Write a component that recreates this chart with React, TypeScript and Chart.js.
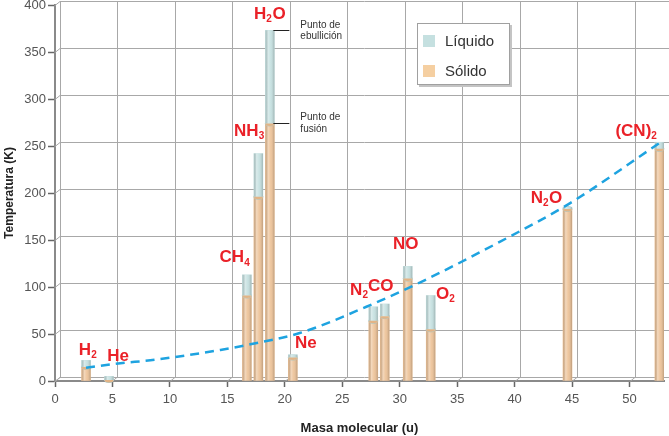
import React, { useEffect, useRef } from 'react';
import { Chart, registerables } from 'chart.js';

Chart.register(...registerables);

// ---- data ----
const species = ['H_2', 'He', 'CH_4', 'NH_3', 'H_2O', 'Ne', 'N_2', 'CO', 'NO', 'O_2', 'N_2O', '(CN)_2'];
const molecularMass = [2.7, 4.7, 16.7, 17.7, 18.7, 20.7, 27.7, 28.7, 30.7, 32.7, 44.6, 52.6];
const meltingPoint = [15, 1, 91, 196, 274, 25, 64, 69, 109, 55, 183, 247];
const boilingPoint = [22, 5, 113, 242, 373, 28, 79, 82, 122, 91, 185, 254];
const trendMass = [2.7, 5.7, 8.3, 14.4, 17.0, 21.3, 27.1, 31.8, 38.7, 44.8, 52.7];
const trendTemp = [14, 19, 22, 33, 39, 51, 79, 105, 148, 189, 254];
const xTickValues = [0, 5, 10, 15, 20, 25, 30, 35, 40, 45, 50];
const yTickValues = [0, 50, 100, 150, 200, 250, 300, 350, 400];
const legendLabels = ['Líquido', 'Sólido'];

// ---- label placement (pixel offsets from each bar top), kept apart from data ----
const labelOffsets = [
  [2, -10], [9, -20], [-12, -17], [-9, -22], [0, -16], [13, -11],
  [-14, -16], [-4, -18], [-2, -22], [15, -1], [-21, -9], [-23, -11],
];

const SOLID = '#edc399';
const LIQUID = '#c5e0e0';
const RED = '#ea2128';
const FONT = "'Liberation Sans', Arial, sans-serif";
const BACK_DX = 5;
const BACK_DY = -4;

function parseChem(s: string): Array<[string, boolean]> {
  const parts: Array<[string, boolean]> = [];
  for (let i = 0; i < s.length; i++) {
    if (s[i] === '_' && i + 1 < s.length) {
      parts.push([s[i + 1], true]);
      i++;
    } else {
      const last = parts[parts.length - 1];
      if (last && !last[1]) last[0] += s[i];
      else parts.push([s[i], false]);
    }
  }
  return parts;
}

function drawChem(ctx: CanvasRenderingContext2D, text: string, cx: number, cy: number) {
  const parts = parseChem(text);
  const mainFont = `bold 17px ${FONT}`;
  const subFont = `bold 10px ${FONT}`;
  let total = 0;
  for (const [t, sub] of parts) {
    ctx.font = sub ? subFont : mainFont;
    total += ctx.measureText(t).width + (sub ? 0.5 : 0);
  }
  let x = cx - total / 2;
  ctx.fillStyle = RED;
  ctx.textAlign = 'left';
  ctx.textBaseline = 'middle';
  for (const [t, sub] of parts) {
    ctx.font = sub ? subFont : mainFont;
    ctx.fillText(t, x, sub ? cy + 5 : cy);
    x += ctx.measureText(t).width + (sub ? 0.5 : 0);
  }
}

const backGridPlugin = {
  id: 'backGrid',
  beforeDatasetsDraw(chart: any) {
    const { ctx, chartArea: a, scales } = chart;
    const xs = scales.x;
    const ys = scales.y;
    ctx.save();
    ctx.strokeStyle = '#a8a8a8';
    ctx.lineWidth = 1;
    ctx.beginPath();
    for (const v of yTickValues) {
      const py = Math.round(ys.getPixelForValue(v)) + 0.5;
      ctx.moveTo(a.left, py);
      ctx.lineTo(a.left + BACK_DX, py + BACK_DY);
      ctx.lineTo(chart.width, py + BACK_DY);
    }
    for (const v of xTickValues) {
      const px = Math.round(xs.getPixelForValue(v)) + 0.5;
      ctx.moveTo(px, a.bottom);
      ctx.lineTo(px + BACK_DX, a.bottom + BACK_DY);
      ctx.lineTo(px + BACK_DX, ys.getPixelForValue(400) + BACK_DY);
    }
    ctx.stroke();
    ctx.restore();
  },
};

const barShadePlugin = {
  id: 'barShade',
  afterDatasetDraw(chart: any, args: any) {
    const meta = args.meta;
    if (meta.type !== 'bar') return;
    const { ctx } = chart;
    ctx.save();
    meta.data.forEach((el: any) => {
      const { x, y, base, width } = el.getProps(['x', 'y', 'base', 'width'], true);
      const top = Math.min(y, base);
      const bottom = Math.max(y, base);
      const g = ctx.createLinearGradient(x - width / 2, 0, x + width / 2, 0);
      g.addColorStop(0, 'rgba(0,0,0,0.10)');
      g.addColorStop(0.3, 'rgba(255,255,255,0.35)');
      g.addColorStop(0.6, 'rgba(255,255,255,0.05)');
      g.addColorStop(1, 'rgba(0,0,0,0.20)');
      ctx.fillStyle = g;
      ctx.fillRect(x - width / 2, top, width, bottom - top);
      if (meta.index === 1) {
        ctx.beginPath();
        ctx.ellipse(x, top, width / 2, 2.5, 0, 0, Math.PI * 2);
        ctx.fillStyle = '#dff0f0';
        ctx.fill();
        ctx.strokeStyle = '#9fc2c2';
        ctx.lineWidth = 0.8;
        ctx.stroke();
      } else {
        ctx.beginPath();
        ctx.ellipse(x, bottom, width / 2, 2.5, 0, 0, Math.PI);
        ctx.fillStyle = '#e2b486';
        ctx.fill();
      }
    });
    ctx.restore();
  },
};

const overlayPlugin = {
  id: 'overlay',
  afterDatasetsDraw(chart: any) {
    const { ctx, chartArea: a, scales } = chart;
    const xs = scales.x;
    const ys = scales.y;
    ctx.save();
    // formula labels
    species.forEach((s, i) => {
      const px = xs.getPixelForValue(molecularMass[i]) + labelOffsets[i][0];
      const py = ys.getPixelForValue(boilingPoint[i]) + labelOffsets[i][1];
      drawChem(ctx, s, px, py);
    });
    // H2O annotations
    const w = 4.5;
    const hx = xs.getPixelForValue(molecularMass[4]) + w;
    const yb = ys.getPixelForValue(boilingPoint[4]);
    const ym = ys.getPixelForValue(meltingPoint[4]);
    ctx.strokeStyle = '#222';
    ctx.lineWidth = 1;
    ctx.beginPath();
    ctx.moveTo(hx - 1, Math.round(yb) + 0.5);
    ctx.lineTo(hx + 15, Math.round(yb) + 0.5);
    ctx.moveTo(hx - 1, Math.round(ym) + 0.5);
    ctx.lineTo(hx + 15, Math.round(ym) + 0.5);
    ctx.stroke();
    ctx.fillStyle = '#333';
    ctx.font = `10px ${FONT}`;
    ctx.textAlign = 'left';
    ctx.textBaseline = 'middle';
    ctx.fillText('Punto de', hx + 26, yb - 5);
    ctx.fillText('ebullición', hx + 26, yb + 6);
    ctx.fillText('Punto de', hx + 26, ym - 6);
    ctx.fillText('fusión', hx + 26, ym + 6);
    // legend box
    const lx = a.left + 362;
    const ly = a.top + 18;
    ctx.fillStyle = '#c4c4c4';
    ctx.fillRect(lx + 2, ly + 2, 93, 62);
    ctx.fillStyle = '#ffffff';
    ctx.fillRect(lx, ly, 93, 62);
    ctx.strokeStyle = '#a0a0a0';
    ctx.lineWidth = 1;
    ctx.strokeRect(lx + 0.5, ly + 0.5, 92, 61);
    const swatch = [LIQUID, '#f5cfa1'];
    legendLabels.forEach((lab, i) => {
      const sy = ly + 12 + i * 30;
      ctx.fillStyle = swatch[i];
      ctx.fillRect(lx + 6, sy, 12, 12);
      ctx.fillStyle = '#333';
      ctx.font = `15px ${FONT}`;
      ctx.textBaseline = 'middle';
      ctx.fillText(lab, lx + 28, sy + 6.5);
    });
    ctx.restore();
  },
};

export default function App() {
  const canvasRef = useRef<HTMLCanvasElement | null>(null);

  useEffect(() => {
    document.body.style.margin = '0';
    const canvas = canvasRef.current;
    if (!canvas) return;
    Chart.defaults.font.family = FONT;

    const chart = new Chart(canvas, {
      type: 'bar',
      data: {
        datasets: [
          {
            type: 'line',
            label: 'tendencia',
            data: trendMass.map((m, i) => ({ x: m, y: trendTemp[i] })),
            borderColor: '#1ea3e0',
            borderWidth: 2.5,
            borderDash: [9, 6],
            pointRadius: 0,
            cubicInterpolationMode: 'monotone',
            fill: false,
            order: 0,
          } as any,
          {
            type: 'bar',
            label: legendLabels[1],
            data: molecularMass.map((m, i) => ({ x: m, y: meltingPoint[i] })),
            backgroundColor: SOLID,
            borderWidth: 0,
            barThickness: 9,
            grouped: false,
            order: 2,
          } as any,
          {
            type: 'bar',
            label: legendLabels[0],
            data: molecularMass.map((m, i) => ({ x: m, y: [meltingPoint[i], boilingPoint[i]] })),
            backgroundColor: LIQUID,
            borderWidth: 0,
            barThickness: 9,
            grouped: false,
            order: 1,
          } as any,
        ],
      },
      options: {
        responsive: false,
        maintainAspectRatio: false,
        animation: false,
        devicePixelRatio: 1,
        layout: { padding: { top: 5, right: 5, left: 0, bottom: 0 } },
        plugins: { legend: { display: false }, tooltip: { enabled: false } },
        scales: {
          x: {
            type: 'linear',
            min: 0,
            max: 53,
            offset: false,
            afterBuildTicks: (s: any) => {
              s.ticks = xTickValues.map((v) => ({ value: v }));
            },
            afterFit: (s: any) => {
              s.height = 55;
              s.paddingLeft = 0;
              s.paddingRight = 0;
            },
            grid: {
              offset: false,
              drawOnChartArea: false,
              drawTicks: true,
              tickLength: 6,
              tickColor: '#666',
              tickWidth: 1.5,
            },
            border: { display: true, color: '#8a8a8a', width: 2 },
            ticks: {
              color: '#555',
              font: { size: 13 },
              padding: 5,
              maxRotation: 0,
              autoSkip: false,
              callback: (v: any) => String(v),
            },
            title: {
              display: true,
              text: 'Masa molecular (u)',
              color: '#222',
              font: { size: 13, weight: 'bold' },
              padding: { top: 0, bottom: 0 },
            },
          },
          y: {
            type: 'linear',
            min: 0,
            max: 400,
            afterBuildTicks: (s: any) => {
              s.ticks = yTickValues.map((v) => ({ value: v }));
            },
            afterFit: (s: any) => {
              s.width = 55;
              s.paddingTop = 0;
              s.paddingBottom = 0;
            },
            grid: {
              drawOnChartArea: false,
              drawTicks: true,
              tickLength: 7,
              tickColor: '#666',
              tickWidth: 1.5,
            },
            border: { display: true, color: '#8a8a8a', width: 2 },
            ticks: {
              color: '#555',
              font: { size: 13 },
              padding: 2,
              autoSkip: false,
              callback: (v: any) => String(v),
            },
            title: {
              display: true,
              text: 'Temperatura (K)',
              color: '#222',
              font: { size: 12, weight: 'bold' },
              padding: { top: 2, bottom: 0 },
            },
          },
        },
      } as any,
      plugins: [backGridPlugin, barShadePlugin, overlayPlugin],
    });

    return () => {
      chart.destroy();
    };
  }, []);

  return (
    <div style={{ width: 669, height: 436 }}>
      <canvas ref={canvasRef} width={669} height={436} style={{ display: 'block' }} />
    </div>
  );
}
